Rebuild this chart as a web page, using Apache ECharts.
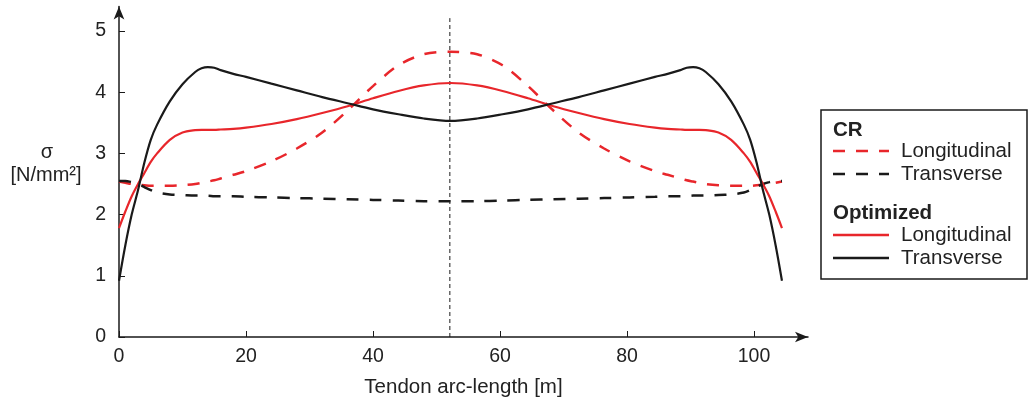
<!DOCTYPE html>
<html><head><meta charset="utf-8">
<script src="https://cdn.jsdelivr.net/npm/echarts@6/dist/echarts.min.js"></script>
<style>html,body{margin:0;padding:0;background:#fff}#c{width:1030px;height:405px}</style>
</head><body><div id="c"></div>
<script>
// arc-length positions [m]
const X = [0,1,2,3,4,5,6,8,10,12,13,14,15,16,18,20,24,28,32,36,40,44,48,52.2,
  56.4,60.4,64.4,68.4,72.4,76.4,80.4,84.4,86.4,88.4,89.4,90.4,91.4,92.4,94.4,96.4,98.4,99.4,100.4,101.4,102.4,103.4,104.4];
const crLongitudinal = [2.54,2.52,2.5,2.49,2.48,2.47,2.47,2.47,2.48,2.5,2.52,2.54,2.56,2.59,2.65,2.71,2.87,3.08,3.34,3.7,4.1,4.44,4.62,4.66,
  4.62,4.44,4.1,3.7,3.34,3.08,2.87,2.71,2.65,2.59,2.56,2.54,2.52,2.5,2.48,2.47,2.47,2.47,2.48,2.49,2.5,2.52,2.54];
const crTransverse = [2.55,2.55,2.53,2.5,2.45,2.4,2.36,2.33,2.32,2.31,2.31,2.31,2.3,2.3,2.3,2.29,2.28,2.27,2.26,2.25,2.24,2.23,2.22,2.22,
  2.22,2.23,2.24,2.25,2.26,2.27,2.28,2.29,2.3,2.3,2.3,2.31,2.31,2.31,2.32,2.33,2.36,2.4,2.45,2.5,2.53,2.55,2.55];
const optLongitudinal = [1.78,2.05,2.3,2.5,2.68,2.86,3.0,3.22,3.34,3.38,3.385,3.385,3.385,3.39,3.4,3.42,3.48,3.56,3.66,3.77,3.9,4.02,4.11,4.15,
  4.11,4.02,3.9,3.77,3.66,3.56,3.48,3.42,3.4,3.39,3.385,3.385,3.385,3.38,3.34,3.22,3.0,2.86,2.68,2.5,2.3,2.05,1.78];
const optTransverse = [0.92,1.5,2.0,2.4,2.85,3.22,3.47,3.85,4.13,4.33,4.39,4.41,4.4,4.36,4.3,4.25,4.14,4.03,3.92,3.82,3.72,3.64,3.57,3.53,
  3.57,3.64,3.72,3.82,3.92,4.03,4.14,4.25,4.3,4.36,4.4,4.41,4.39,4.33,4.13,3.85,3.47,3.22,2.85,2.4,2.0,1.5,0.92];
const centerX = [52.1,52.1];
const centerY = [0,5.21];
const xTicks = [0,20,40,60,80,100];
const yTicks = [0,1,2,3,4,5];

const RED = '#e8262b', BLK = '#1a1a1a';
const pairs = (xs, ys) => xs.map((x,i)=>[x, ys[i]]);
const chart = echarts.init(document.getElementById('c'), null, {renderer:'canvas'});
const F = 'Liberation Sans, Arial, sans-serif';
function mk(name, ys, color, dashed){
  return {name, type:'line', data:pairs(X, ys), symbol:'none', smooth:0.3, z:3,
    lineStyle:{color, width: dashed ? 2.5 : 2.2, type: dashed ? [12,11] : 'solid'}};
}
const lx1=833, lx2=889, tx=901;
function legLine(y, color, dashed){
  return {type:'line', shape:{x1:lx1,y1:y,x2:lx2,y2:y}, style:{stroke:color, lineWidth:2.5, lineDash: dashed?[12,11]:null}};
}
function legText(y, t, bold){
  return {type:'text', x: bold? lx1 : tx, y, style:{text:t, font:(bold?'bold ':'')+'20.5px '+F, fill:'#222', textVerticalAlign:'middle'}};
}
chart.setOption({
  animation:false,
  grid:{left:119, right:222, top:6.5, bottom:68},
  xAxis:{type:'value', min:0, max:108.5, interval:20,
    axisLine:{show:true, lineStyle:{color:BLK, width:1.5}, symbol:['none','arrow'], symbolSize:[8,13]},
    axisTick:{show:true, inside:true, length:6, customValues:xTicks, lineStyle:{color:BLK}},
    axisLabel:{customValues:xTicks, color:'#222', fontSize:19.5, fontFamily:F, margin:10},
    splitLine:{show:false},
    name:'Tendon arc-length [m]', nameLocation:'middle', nameGap:40,
    nameTextStyle:{color:'#222', fontSize:20.5, fontFamily:F}},
  yAxis:{type:'value', min:0, max:5.4, interval:1,
    axisLine:{show:true, lineStyle:{color:BLK, width:1.5}, symbol:['none','arrow'], symbolSize:[8,13]},
    axisTick:{show:true, inside:true, length:6, customValues:yTicks, lineStyle:{color:BLK}},
    axisLabel:{customValues:yTicks, color:'#222', fontSize:19.5, fontFamily:F, margin:13},
    splitLine:{show:false}},
  series:[
    mk('CR Longitudinal', crLongitudinal, RED, true),
    mk('CR Transverse', crTransverse, BLK, true),
    mk('Optimized Longitudinal', optLongitudinal, RED, false),
    mk('Optimized Transverse', optTransverse, BLK, false),
    {type:'line', data:pairs(centerX, centerY), symbol:'none', z:2,
      lineStyle:{color:BLK, width:1, type:[4,3]}}
  ],
  graphic:[
    {type:'text', x:47, y:152, style:{text:'σ', font:'20px '+F, fill:'#222', textAlign:'center', textVerticalAlign:'middle'}},
    {type:'text', x:46, y:175, style:{text:'[N/mm²]', font:'20px '+F, fill:'#222', textAlign:'center', textVerticalAlign:'middle'}},
    {type:'rect', shape:{x:821, y:110, width:206, height:169}, style:{fill:'#fff', stroke:BLK, lineWidth:1.5}},
    legText(130,'CR',true),
    legLine(151, RED, true), legText(151,'Longitudinal'),
    legLine(174, BLK, true), legText(174,'Transverse'),
    legText(213,'Optimized',true),
    legLine(235, RED, false), legText(235,'Longitudinal'),
    legLine(258, BLK, false), legText(258,'Transverse')
  ]
});
</script></body></html>
